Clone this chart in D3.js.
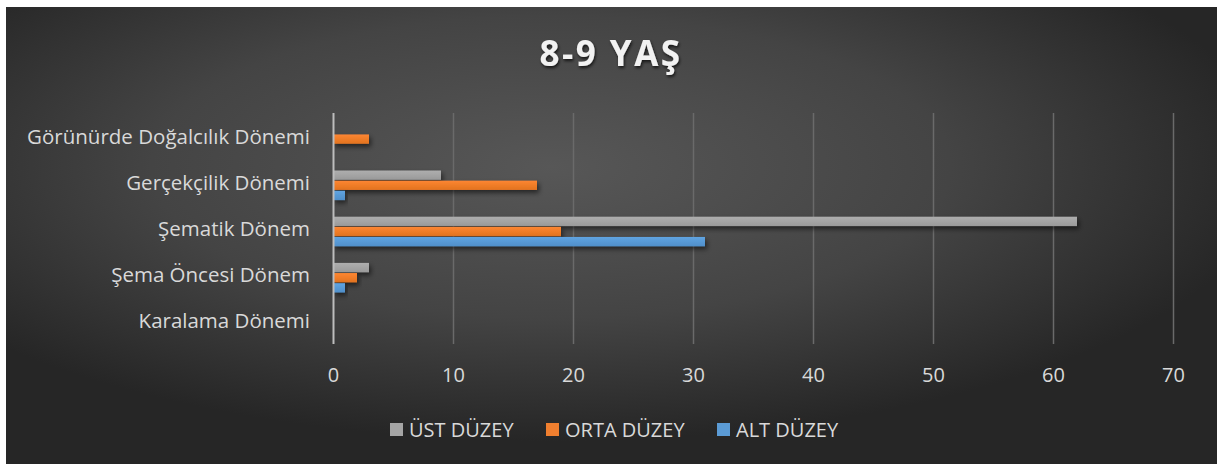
<!DOCTYPE html>
<html><head><meta charset="utf-8">
<script src="https://cdn.jsdelivr.net/npm/d3@7"></script>
<style>
html,body{margin:0;padding:0;background:#fff;}
svg{display:block;}
text{font-family:"Open Sans",sans-serif;}
</style></head>
<body>
<svg id="chart" width="1228" height="464"></svg>
<script>
const categories = ["Görünürde Doğalcılık Dönemi","Gerçekçilik Dönemi","Şematik Dönem","Şema Öncesi Dönem","Karalama Dönemi"];
const seriesNames = ["ÜST DÜZEY","ORTA DÜZEY","ALT DÜZEY"];
const ustValues  = [0, 9, 62, 3, 0];
const ortaValues = [3, 17, 19, 2, 0];
const altValues  = [0, 1, 31, 1, 0];
const xTicks = [0,10,20,30,40,50,60,70];
const title = "8-9 YAŞ";

const seriesValues = [ustValues, ortaValues, altValues];
const colors = ["#a5a5a5","#f07f2f","#5b9bd5"];
const colorsDark = ["#9a9a9a","#e2731f","#4f8fca"];

const svg = d3.select("#chart");
const defs = svg.append("defs");
const bg = defs.append("radialGradient").attr("id","bg").attr("cx","0.45").attr("cy","0.35").attr("r","0.6");
bg.append("stop").attr("offset","0").attr("stop-color","#575757");
bg.append("stop").attr("offset","0.55").attr("stop-color","#444444");
bg.append("stop").attr("offset","1").attr("stop-color","#262626");
colors.forEach((c,i)=>{
  const g = defs.append("linearGradient").attr("id","bar"+i).attr("x1",0).attr("y1",0).attr("x2",0).attr("y2",1);
  g.append("stop").attr("offset","0").attr("stop-color",d3.color(c).brighter(0.15));
  g.append("stop").attr("offset","1").attr("stop-color",colorsDark[i]);
});
const sh = defs.append("filter").attr("id","shadow").attr("x","-10%").attr("y","-50%").attr("width","130%").attr("height","250%");
sh.append("feDropShadow").attr("dx",2).attr("dy",3).attr("stdDeviation",2.5).attr("flood-color","#000").attr("flood-opacity",0.55);
const ts = defs.append("filter").attr("id","tshadow").attr("x","-20%").attr("y","-50%").attr("width","140%").attr("height","200%");
ts.append("feDropShadow").attr("dx",1).attr("dy",2).attr("stdDeviation",1.5).attr("flood-color","#000").attr("flood-opacity",0.7);

svg.append("rect").attr("x",6).attr("y",7).attr("width",1211).attr("height",457).attr("fill","url(#bg)");

const x = d3.scaleLinear().domain([0,70]).range([333,1173]);
const y0 = d3.scaleBand().domain(categories).range([116,347]).paddingInner(0.36).paddingOuter(0.18);
const y1 = d3.scaleBand().domain(seriesNames).range([0,y0.bandwidth()]).paddingInner(0.08);

// gridlines
svg.append("g").selectAll("line").data(xTicks.slice(1)).join("line")
  .attr("x1",d=>x(d)+0.5).attr("x2",d=>x(d)+0.5).attr("y1",113).attr("y2",344)
  .attr("stroke","#6a6a6a").attr("stroke-width",1.5);

// bars
const gCat = svg.append("g").selectAll("g").data(categories).join("g")
  .attr("transform",d=>`translate(0,${y0(d)})`);
gCat.selectAll("rect").data((d,ci)=>seriesNames.map((s,si)=>({s,si,v:seriesValues[si][ci]})).filter(o=>o.v>0)).join("rect")
  .attr("x",x(0)).attr("y",d=>y1(d.s)).attr("height",y1.bandwidth())
  .attr("width",d=>x(d.v)-x(0)).attr("fill",d=>`url(#bar${d.si})`).attr("filter","url(#shadow)");

// axis line
svg.append("line").attr("x1",x(0)+0.5).attr("x2",x(0)+0.5).attr("y1",113).attr("y2",344)
  .attr("stroke","#bdbdbd").attr("stroke-width",2);

// x axis labels
const xAxis = d3.axisBottom(x).tickValues(xTicks).tickSize(0).tickPadding(0);
const xg = svg.append("g").attr("transform","translate(0,368)").call(xAxis);
xg.select(".domain").remove();
xg.selectAll("text").attr("fill","#d9d9d9").attr("font-size","20px").attr("dy","0.32em").attr("y",8)
  .style("font-family","'Open Sans',sans-serif");

// y labels
const yAxis = d3.axisLeft(y0).tickSize(0).tickPadding(0);
const yg = svg.append("g").attr("transform","translate(310,-2)").call(yAxis);
yg.select(".domain").remove();
yg.selectAll("text").attr("fill","#d9d9d9").attr("font-size","20.5px")
  .style("font-family","'Open Sans',sans-serif");

// title
svg.append("text").attr("x",611).attr("y",66).attr("text-anchor","middle")
  .attr("font-size","35px").attr("font-weight","bold").attr("fill","#f2f2f2")
  .attr("letter-spacing","2.5px").attr("filter","url(#tshadow)").text(title);

// legend
const legendX = [390, 546, 717];
const lg = svg.append("g").selectAll("g").data(seriesNames).join("g")
  .attr("transform",(d,i)=>`translate(${legendX[i]},423)`);
lg.append("rect").attr("width",13).attr("height",13).attr("fill",(d,i)=>colors[i]);
lg.append("text").attr("x",19).attr("y",6.5).attr("dy","0.35em").attr("fill","#d9d9d9")
  .attr("font-size","20px").text(d=>d);
</script>
</body></html>
